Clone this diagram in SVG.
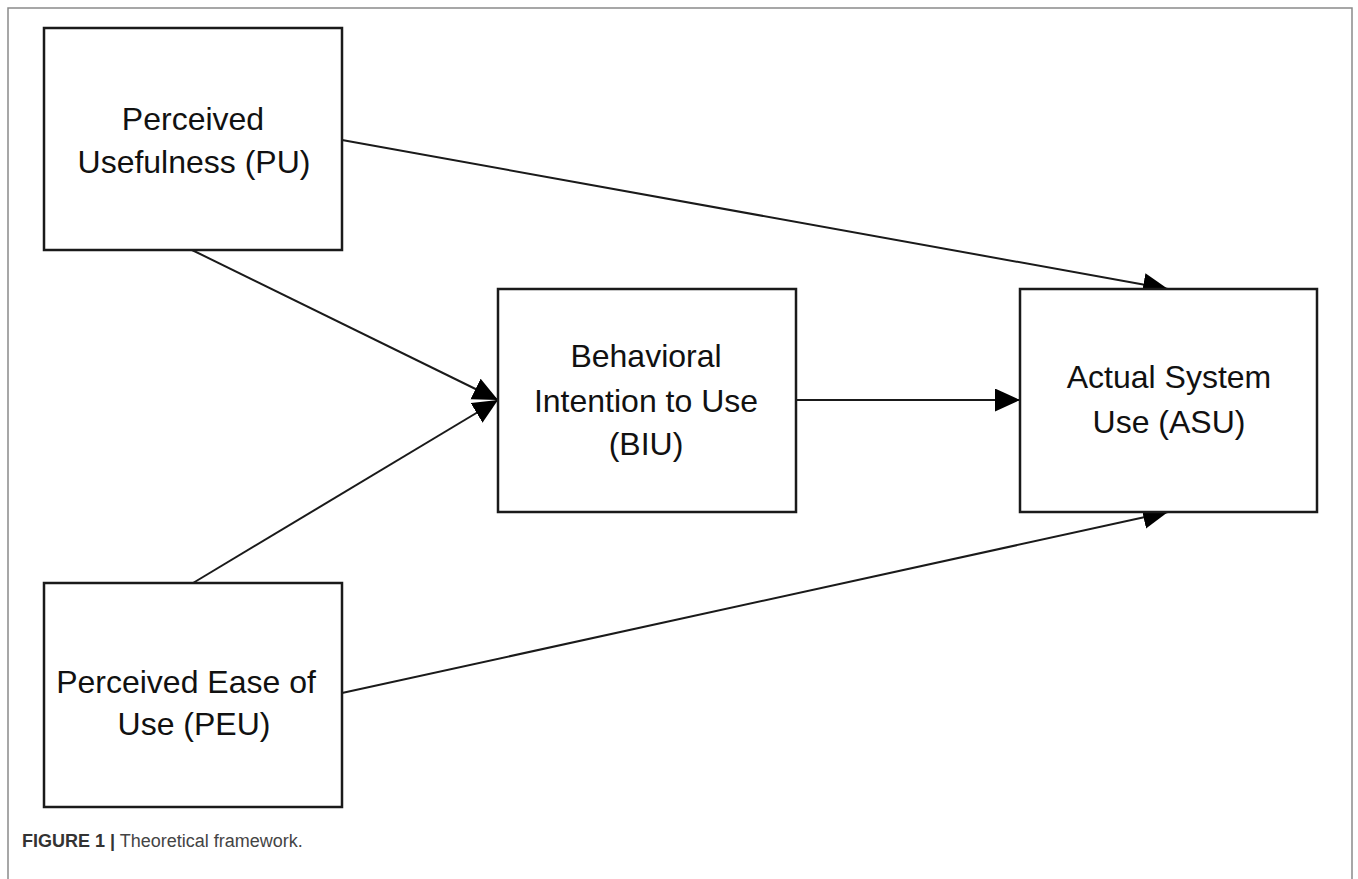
<svg xmlns="http://www.w3.org/2000/svg" width="1358" height="879" viewBox="0 0 1358 879">
<style>
.box{fill:#fff;stroke:#1a1a1a;stroke-width:2.5}
.lbl{font-family:"Liberation Sans",Arial,sans-serif;font-size:32px;fill:#111;text-anchor:middle}
.conn{stroke:#1a1a1a;stroke-width:2;fill:none;marker-end:url(#ah)}
.cap{font-family:"Liberation Sans",Arial,sans-serif;font-size:18px;fill:#444}
</style>
<defs>
<marker id="ah" markerUnits="userSpaceOnUse" markerWidth="27" markerHeight="24" refX="25" refY="11.5" orient="auto">
<path d="M0,0 L25,11.5 L0,23 z" fill="#000"/>
</marker>
</defs>
<rect width="1358" height="879" fill="#fff"/>
<path d="M8,879 V8 H1352 V879" fill="none" stroke="#8a8a8a" stroke-width="1.5"/>
<g id="connectors">
<line class="conn" x1="342" y1="140" x2="1168" y2="289"/>
<line class="conn" x1="192" y1="250" x2="498" y2="400"/>
<line class="conn" x1="193" y1="583" x2="498" y2="400"/>
<line class="conn" x1="796" y1="400" x2="1020" y2="400"/>
<line class="conn" x1="342" y1="693" x2="1168" y2="512"/>
</g>
<g id="PU">
<rect class="box" x="44" y="28" width="298" height="222"/>
<text class="lbl" x="193" y="130">Perceived</text>
<text class="lbl" x="194" y="173">Usefulness (PU)</text>
</g>
<g id="PEU">
<rect class="box" x="44" y="583" width="298" height="224"/>
<text class="lbl" x="186" y="693">Perceived Ease of</text>
<text class="lbl" x="194" y="735">Use (PEU)</text>
</g>
<g id="BIU">
<rect class="box" x="498" y="289" width="298" height="223"/>
<text class="lbl" x="646" y="367">Behavioral</text>
<text class="lbl" x="646" y="412">Intention to Use</text>
<text class="lbl" x="646" y="455">(BIU)</text>
</g>
<g id="ASU">
<rect class="box" x="1020" y="289" width="297" height="223"/>
<text class="lbl" x="1169" y="388">Actual System</text>
<text class="lbl" x="1169" y="433">Use (ASU)</text>
</g>
<text class="cap" x="22" y="847"><tspan font-weight="bold" fill="#333">FIGURE 1 |</tspan> Theoretical framework.</text>
</svg>
